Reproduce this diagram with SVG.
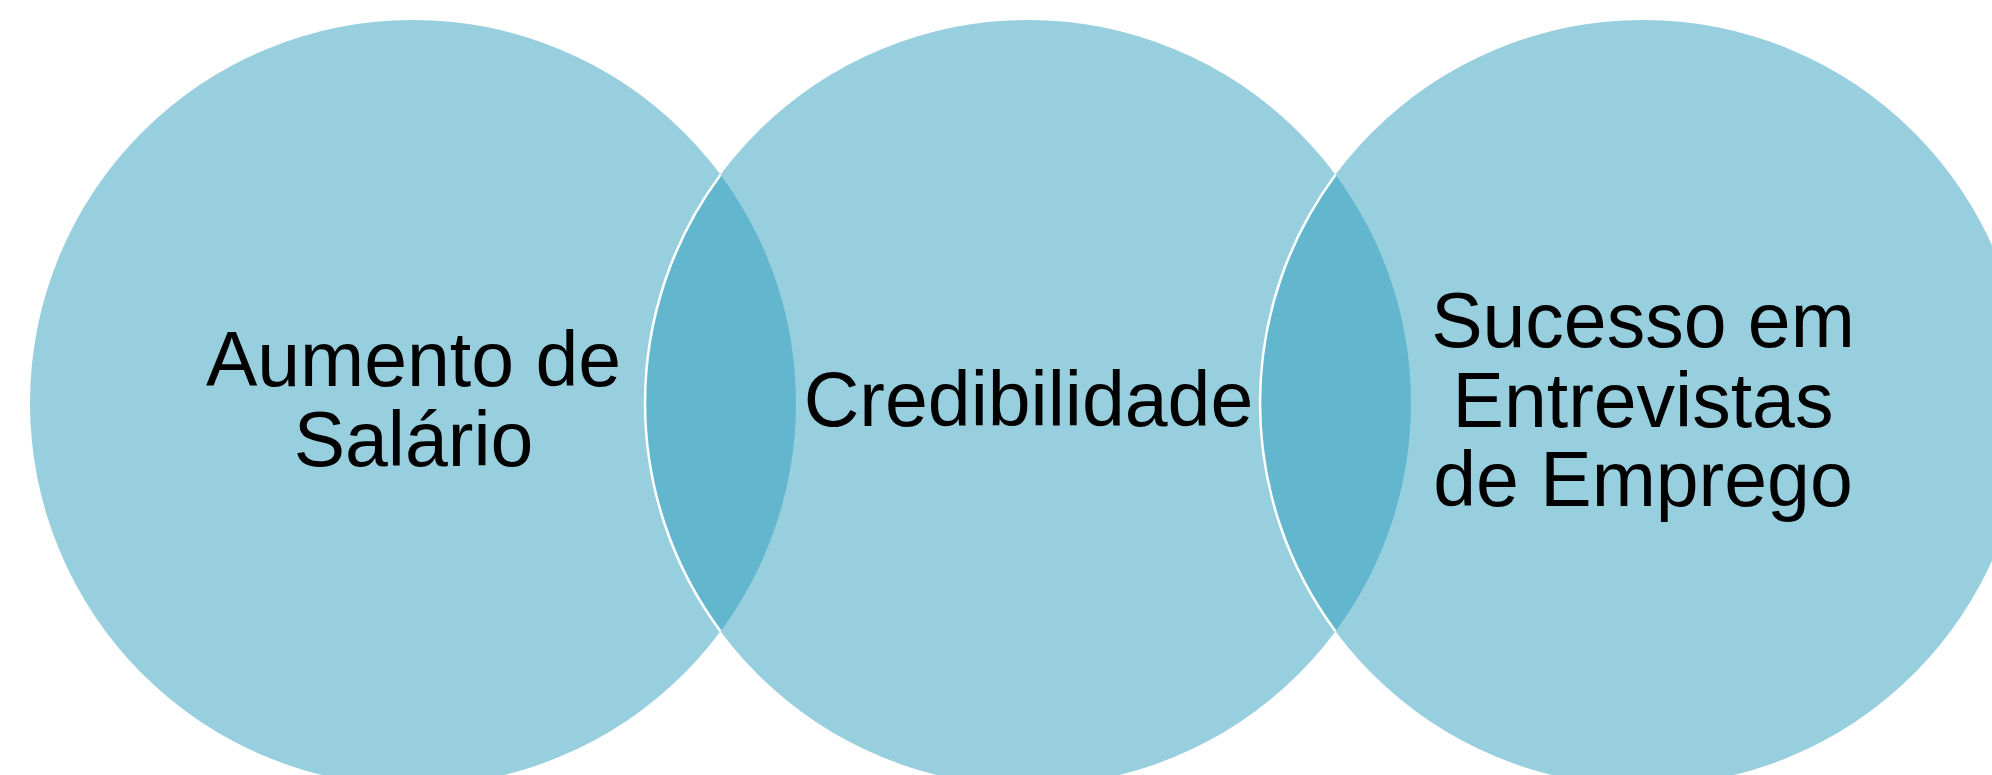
<svg xmlns="http://www.w3.org/2000/svg" width="1992" height="775" viewBox="0 0 1992 775">
<style>
.c{fill:#97CFDE;}
.lens{fill:#62B7CE;}
.edge{fill:none;stroke:#FFFFFF;stroke-width:2.5;}
.t{font-family:"Liberation Sans",Arial,sans-serif;font-size:77px;fill:#000000;text-anchor:middle;}
</style>
<rect width="1992" height="775" fill="#FFFFFF"/>
<g id="node-aumento">
<circle class="c" cx="413" cy="403" r="383"/>
</g>
<g id="node-credibilidade">
<circle class="c" cx="1028" cy="403" r="383"/>
</g>
<g id="node-sucesso">
<circle class="c" cx="1643" cy="403" r="383"/>
</g>
<g id="overlaps">
<path class="lens" d="M720.5,174.7 A383,383 0 0,0 720.5,631.3 A383,383 0 0,0 720.5,174.7 Z"/>
<path class="lens" d="M1335.5,174.7 A383,383 0 0,0 1335.5,631.3 A383,383 0 0,0 1335.5,174.7 Z"/>
<path class="edge" d="M720.5,174.7 A383,383 0 0,0 720.5,631.3"/>
<path class="edge" d="M1335.5,174.7 A383,383 0 0,0 1335.5,631.3"/>
</g>
<g id="labels">
<text class="t" x="413.5" y="386">Aumento de</text>
<text class="t" x="413.5" y="466">Salário</text>
<text class="t" x="1028.5" y="426">Credibilidade</text>
<text class="t" x="1643" y="347">Sucesso em</text>
<text class="t" x="1643" y="427">Entrevistas</text>
<text class="t" x="1643" y="506">de Emprego</text>
</g>
</svg>
